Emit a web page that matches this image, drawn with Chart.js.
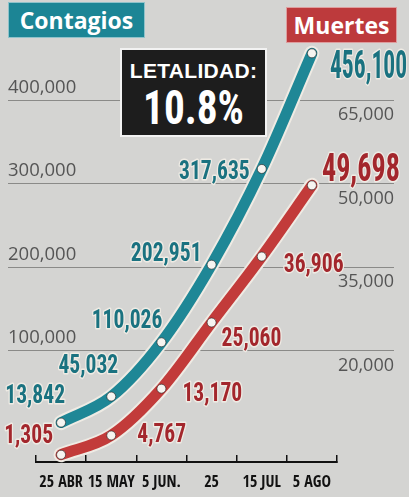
<!DOCTYPE html>
<html>
<head>
<meta charset="utf-8">
<script src="https://cdn.jsdelivr.net/npm/chart.js@4.4.1/dist/chart.umd.min.js"></script>
<style>
  html, body { margin: 0; padding: 0; background: #d4d4d2; }
  #wrap { position: relative; width: 409px; height: 497px; overflow: hidden; background: #d4d4d2; }
  canvas { position: absolute; left: 0; top: 0; }
  .tag { position: absolute; color: #fff; font-family: 'Open Sans', 'DejaVu Sans', sans-serif; font-weight: 700;
         font-size: 23px; line-height: 34px; text-align: center; box-sizing: border-box; border: 1px solid rgba(255,255,255,0.5); }
  #tagC { left: 8px; top: 2px; width: 137px; height: 36px; background: #1c8595; }
  #tagM { left: 286px; top: 7px; width: 111px; height: 36px; background: #bd3a3c; }
  #leta { position: absolute; left: 120px; top: 48px; width: 147px; height: 89px; background: #1d1d1d;
          border: 2px solid #f2f2f2; box-sizing: border-box; color: #fff; text-align: center; }
  #leta .l1 { position: absolute; left: 0; right: 0; top: 8px; font-family: 'Liberation Sans', Arial, sans-serif;
              font-weight: 700; font-size: 21px; line-height: 26px; letter-spacing: 0.3px; }
  #leta .l2 { position: absolute; left: 0; right: 0; top: 33px; font-family: 'Roboto Condensed', 'Open Sans Condensed', sans-serif;
              font-weight: 700; font-size: 48px; line-height: 50px; transform: scaleX(0.86); }
</style>
</head>
<body>
<div id="wrap">
  <canvas id="c" width="409" height="497"></canvas>
  <div class="tag" id="tagC">Contagios</div>
  <div class="tag" id="tagM">Muertes</div>
  <div id="leta"><div class="l1">LETALIDAD:</div><div class="l2" id="letaVal"></div></div>
</div>
<script>
// ---- data ----
const categories = ['25 ABR', '15 MAY', '5 JUN.', '25', '15 JUL', '5 AGO'];
const contagios = [13842, 45032, 110026, 202951, 317635, 456100];
const muertes = [1305, 4767, 13170, 25060, 36906, 49698];
const contagiosTicks = [100000, 200000, 300000, 400000];
const muertesTicks = [20000, 35000, 50000, 65000];
const letalidad = '10.8%';

document.getElementById('letaVal').textContent = letalidad;

// ---- styles ----
const TEAL = '#1f8796', RED = '#c23b3a';
const TEAL_TXT = '#1a7280', RED_TXT = '#a3262c';
const HALO = '#efebe4';
const COND = "'Roboto Condensed', 'Open Sans Condensed', sans-serif";
const COND2 = "'Open Sans Condensed', 'Roboto Condensed', sans-serif";
// label placement relative to each point: [dx, dy, align, size, scaleX]
const tealLabelStyle = [
  [4, -26, 'right', 26, 0.83], [7, -30, 'right', 26, 0.83], [1, -21, 'right', 26, 0.83],
  [-10, -10, 'right', 26, 0.83], [-12, 4, 'right', 26, 0.83], [18, 15, 'left', 38, 0.62]
];
const redLabelStyle = [
  [-8, -18, 'right', 26, 0.83], [26, 0, 'left', 26, 0.83], [21, 6, 'left', 26, 0.83],
  [10, 17, 'left', 26, 0.83], [22, 9, 'left', 26, 0.83], [10, -14, 'left', 38, 0.74]
];

const fmt = v => v.toLocaleString('en-US');

const labelPlugin = {
  id: 'valueLabels',
  afterDatasetsDraw(chart) {
    const ctx = chart.ctx;
    const sets = [[2, contagios, tealLabelStyle, TEAL_TXT], [3, muertes, redLabelStyle, RED_TXT]];
    sets.forEach(([idx, values, styles, color]) => {
      const meta = chart.getDatasetMeta(idx);
      meta.data.forEach((pt, i) => {
        const [dx, dy, align, size, sx] = styles[i];
        ctx.save();
        ctx.translate(pt.x + dx, pt.y + dy);
        ctx.scale(sx, 1);
        ctx.font = `bold ${size}px ${COND}`;
        ctx.textAlign = align;
        ctx.textBaseline = 'middle';
        ctx.lineJoin = 'round';
        ctx.strokeStyle = HALO;
        ctx.lineWidth = 3;
        const t = fmt(values[i]);
        ctx.strokeText(t, 0, 0);
        ctx.fillStyle = color;
        ctx.fillText(t, 0, 0);
        ctx.restore();
      });
    });
  }
};

const lineBase = {
  borderCapStyle: 'round', borderJoinStyle: 'round', cubicInterpolationMode: 'monotone', clip: false
};

new Chart(document.getElementById('c'), {
  type: 'line',
  data: {
    labels: categories,
    datasets: [
      Object.assign({}, lineBase, { data: contagios, yAxisID: 'y', borderColor: HALO, borderWidth: 15, pointRadius: 0, order: 2 }),
      Object.assign({}, lineBase, { data: muertes, yAxisID: 'y1', borderColor: HALO, borderWidth: 15, pointRadius: 0, order: 2 }),
      Object.assign({}, lineBase, { label: 'Contagios', data: contagios, yAxisID: 'y', borderColor: TEAL, borderWidth: 11,
        pointRadius: 4.5, pointBackgroundColor: '#f6f4f0', pointBorderColor: 'rgba(30,30,30,0.6)', pointBorderWidth: 1, order: 1 }),
      Object.assign({}, lineBase, { label: 'Muertes', data: muertes, yAxisID: 'y1', borderColor: RED, borderWidth: 11,
        pointRadius: 4.5, pointBackgroundColor: '#f6f4f0', pointBorderColor: 'rgba(30,30,30,0.6)', pointBorderWidth: 1, order: 1 })
    ]
  },
  options: {
    responsive: false,
    devicePixelRatio: 1,
    animation: false,
    layout: { padding: { left: 8, right: 15, top: 44.5, bottom: 0 } },
    plugins: { legend: { display: false }, tooltip: { enabled: false } },
    scales: {
      x: {
        offset: true,
        border: { display: true, color: '#111', width: 2 },
        grid: { offset: true, drawOnChartArea: false, drawTicks: true, tickLength: -7, color: '#111', lineWidth: 1.5 },
        ticks: { color: '#111', padding: 18, maxRotation: 0, autoSkip: false,
                 font: { family: COND2, weight: 'bold', size: 16 } },
        afterFit(s) { s.height = 35; }
      },
      y: {
        position: 'left',
        min: -100000 / 3, max: 1400000 / 3,
        border: { display: false },
        grid: { color: '#8a8a88', lineWidth: 1, drawTicks: true, tickLength: 28 },
        afterBuildTicks(s) { s.ticks = contagiosTicks.map(v => ({ value: v })); },
        ticks: { mirror: true, crossAlign: 'near', padding: -28, labelOffset: -12.5, color: '#555', callback: v => fmt(v),
                 font: { family: "'Open Sans', sans-serif", size: 18.5 } },
        afterFit(s) { s.width = 28; }
      },
      y1: {
        position: 'right',
        min: 0, max: 75000,
        border: { display: false },
        grid: { drawOnChartArea: false, color: '#8a8a88', lineWidth: 1, drawTicks: true, tickLength: 57 },
        afterBuildTicks(s) { s.ticks = muertesTicks.map(v => ({ value: v })); },
        ticks: { crossAlign: 'far', labelOffset: 15, color: '#555', callback: v => fmt(v),
                 font: { family: "'Open Sans', sans-serif", size: 18 } },
        afterFit(s) { s.width = 57; }
      }
    }
  },
  plugins: [labelPlugin]
});
</script>
</body>
</html>
